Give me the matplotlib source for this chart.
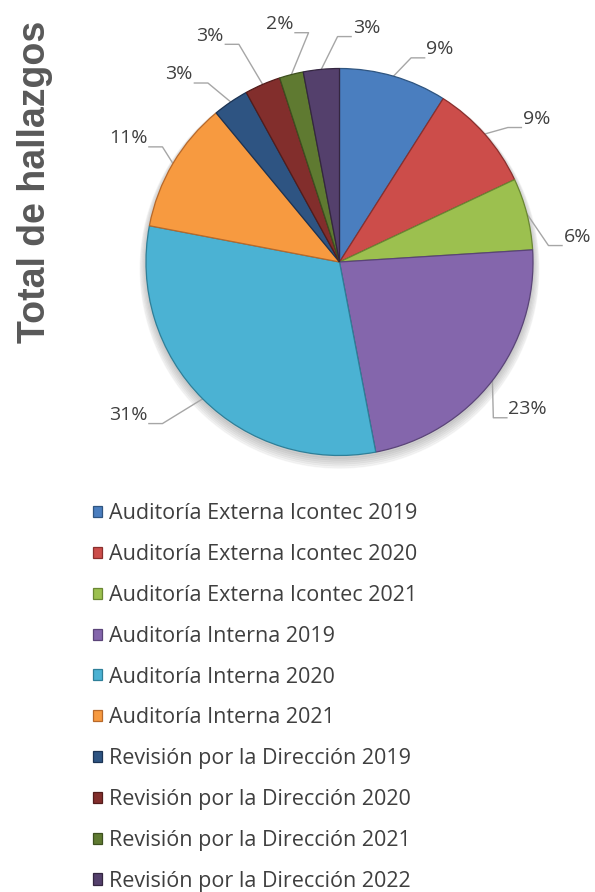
import numpy as np
import matplotlib.pyplot as plt
from matplotlib.patches import Circle

# data
categorias = [
    "Auditoría Externa Icontec 2019",
    "Auditoría Externa Icontec 2020",
    "Auditoría Externa Icontec 2021",
    "Auditoría Interna 2019",
    "Auditoría Interna 2020",
    "Auditoría Interna 2021",
    "Revisión por la Dirección 2019",
    "Revisión por la Dirección 2020",
    "Revisión por la Dirección 2021",
    "Revisión por la Dirección 2022",
]
porcentajes = [9, 9, 6, 23, 31, 11, 3, 3, 2, 3]
colores = ["#4a7ebf", "#cc4d4a", "#9cc04f", "#8466ac", "#4bb2d3",
           "#f79a40", "#2e5482", "#822e2c", "#5f7a31", "#54406c"]
bordes = ["#2f5580", "#8a2f2d", "#6a8733", "#5a4478", "#2e7f98",
          "#b8692a", "#1b3354", "#531c1b", "#3d501f", "#342640"]

# label text positions (in pie radius units, relative to centre)
label_xy = [(0.52, 1.10), (1.02, 0.74), (1.23, 0.13), (0.97, -0.76),
            (-1.09, -0.79), (-1.09, 0.64), (-0.83, 0.97), (-0.67, 1.17),
            (-0.31, 1.23), (0.14, 1.21)]

W, H = 595, 892
cx, cy, R = 339.5, 262.0, 193.5

fig = plt.figure(figsize=(W / 100, H / 100), dpi=100)
ax = fig.add_axes([0, 0, 1, 1])

# soft shadow
for k in range(6):
    ax.add_patch(Circle((0.0, -0.015 - 0.004 * k), 1.0 + 0.006 * k,
                        color="#000000", alpha=0.035, zorder=0))

wedges, _ = ax.pie(porcentajes, colors=colores, startangle=90,
                   counterclock=False, radius=1.0,
                   wedgeprops=dict(linewidth=0.9))
for w, ec in zip(wedges, bordes):
    w.set_edgecolor(ec)
    w.set_zorder(2)

# labels with leader lines
total = sum(porcentajes)
acum = 0
for i, p in enumerate(porcentajes):
    mid = (acum + p / 2) / total * 2 * np.pi
    acum += p
    ex, ey = np.sin(mid), np.cos(mid)
    tx, ty = label_xy[i]
    side = 1 if tx > ex else -1
    half = 0.075 if p < 10 else 0.10
    sx = tx - side * (half + 0.005)
    kx = sx - side * 0.07
    ly = ty - 0.045
    ax.plot([ex, kx, sx], [ey, ly, ly], color="#a6a6a6", lw=1.0, zorder=1)
    ax.text(tx, ty, f"{p}%", ha="center", va="center", fontsize=14,
            family="Open Sans", color="#404040", zorder=3)

ax.set_xlim(-cx / R, (W - cx) / R)
ax.set_ylim(-(H - cy) / R, cy / R)
ax.set_aspect("auto")
ax.axis("off")

fig.text(35 / W, 1 - 182 / H, "Total de hallazgos", rotation=90,
         ha="center", va="center", fontsize=27, fontweight="bold",
         family="Liberation Sans", color="#595959")

leg = fig.legend(wedges, categorias, loc="upper left",
                 bbox_to_anchor=(74 / W, 1 - 484 / H), frameon=False,
                 handlelength=0.42, handleheight=0.42, handletextpad=0.3,
                 labelspacing=0.92, borderpad=0.4,
                 prop=dict(family="Open Sans", size=15.5))
for t in leg.get_texts():
    t.set_color("#3f3f3f")

plt.savefig("out.png", dpi=100)
